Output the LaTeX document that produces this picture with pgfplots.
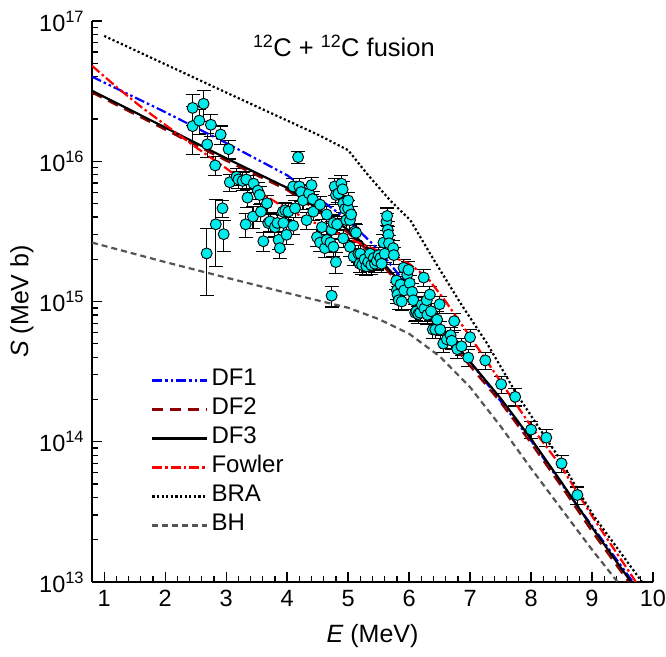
\documentclass[border=0pt]{standalone}
\usepackage{pgfplots}
\pgfplotsset{compat=1.18}
\usepackage{pgfplotstable}
\usepackage{fontspec}
\setmainfont{Liberation Sans}
\definecolor{dfblue}{RGB}{0,0,255}
\definecolor{dfdark}{RGB}{140,0,0}
\definecolor{fowred}{RGB}{255,0,0}
\definecolor{bhgray}{RGB}{85,85,85}
\definecolor{ptcyan}{RGB}{0,235,235}

\pgfplotstableread{
E S r
2.45 2.40e16 0.25
2.45 1.78e16 0.37
2.56 1.95e16 0.2
2.63 2.57e16 0.25
2.68 2.20e15 0.5
2.69 1.32e16 0.2
2.75 1.82e16 0.18
2.82 9.33e15 0.15
2.83 3.55e15 0.5
2.91 1.55e16 0.15
2.94 4.62e15 0.14
2.96 3.02e15 0.25
3.04 1.22e16 0.15
3.06 7.08e15 0.14
3.17 7.76e15 0.14
3.20 7.41e15 0.14
3.27 7.24e15 0.14
3.33 7.41e15 0.14
3.35 5.50e15 0.15
3.32 3.55e15 0.2
3.44 4.03e15 0.18
3.45 6.92e15 0.14
3.52 6.17e15 0.14
3.55 5.75e15 0.15
3.57 4.37e15 0.15
3.61 2.69e15 0.15
3.67 5.01e15 0.14
3.69 3.63e15 0.15
3.72 3.72e15 0.15
3.80 3.39e15 0.15
3.84 3.63e15 0.15
3.86 2.75e15 0.15
3.88 2.40e15 0.15
3.93 4.37e15 0.14
3.94 3.63e15 0.14
3.97 4.47e15 0.14
3.99 2.99e15 0.15
4.02 4.37e15 0.14
4.10 3.47e15 0.14
4.10 6.61e15 0.14
4.13 4.62e15 0.14
4.18 1.07e16 0.1
4.20 6.61e15 0.14
4.23 6.03e15 0.14
4.26 5.25e15 0.14
4.32 3.80e15 0.14
4.36 5.89e15 0.14
4.40 6.76e15 0.14
4.42 5.37e15 0.14
4.43 4.37e15 0.14
4.49 2.88e15 0.14
4.54 4.90e15 0.14
4.54 2.63e15 0.14
4.57 3.39e15 0.14
4.62 2.40e15 0.14
4.65 4.17e15 0.14
4.65 2.75e15 0.14
4.71 2.63e15 0.14
4.73 3.24e15 0.14
4.73 1.10e15 0.17
4.76 3.63e15 0.14
4.76 2.45e15 0.14
4.78 6.61e15 0.14
4.80 5.75e15 0.14
4.80 1.91e15 0.17
4.82 3.55e15 0.14
4.84 5.89e15 0.14
4.89 6.92e15 0.14
4.91 6.31e15 0.14
4.92 5.01e15 0.14
4.92 2.82e15 0.14
4.95 4.57e15 0.14
4.97 3.80e15 0.14
5.00 4.62e15 0.14
5.00 5.25e15 0.14
5.03 3.80e15 0.14
5.03 2.45e15 0.14
5.05 4.17e15 0.14
5.09 2.09e15 0.14
5.11 3.16e15 0.14
5.13 3.09e15 0.14
5.17 2.19e15 0.14
5.19 1.86e15 0.14
5.20 2.19e15 0.14
5.23 1.82e15 0.14
5.27 2.00e15 0.14
5.30 1.78e15 0.14
5.33 1.91e15 0.14
5.36 2.19e15 0.14
5.38 1.82e15 0.14
5.42 2.04e15 0.14
5.44 1.86e15 0.14
5.47 1.95e15 0.14
5.50 2.14e15 0.14
5.53 2.04e15 0.14
5.55 1.86e15 0.14
5.58 2.63e15 0.14
5.60 2.19e15 0.14
5.63 3.72e15 0.14
5.64 4.07e15 0.14
5.65 3.24e15 0.14
5.66 2.99e15 0.14
5.67 2.60e15 0.14
5.74 2.40e15 0.14
5.75 2.14e15 0.14
5.79 1.41e15 0.14
5.80 1.20e15 0.14
5.81 1.12e15 0.14
5.83 1.02e15 0.14
5.86 1.32e15 0.14
5.88 1.00e15 0.14
5.91 1.74e15 0.14
5.92 1.20e15 0.14
5.97 1.55e15 0.14
5.99 1.68e15 0.14
6.01 1.35e15 0.14
6.05 1.17e15 0.14
6.07 1.02e15 0.14
6.10 8.32e14 0.14
6.12 8.51e14 0.14
6.15 8.13e14 0.14
6.18 8.32e14 0.14
6.21 9.44e14 0.14
6.24 1.48e15 0.14
6.25 8.91e14 0.14
6.29 1.02e15 0.14
6.30 8.04e14 0.14
6.34 1.12e15 0.14
6.36 8.51e14 0.14
6.39 6.31e14 0.14
6.43 6.31e14 0.14
6.46 7.41e14 0.14
6.50 9.55e14 0.14
6.51 6.31e14 0.14
6.56 5.01e14 0.14
6.62 5.37e14 0.14
6.68 5.75e14 0.14
6.70 5.25e14 0.14
6.74 7.24e14 0.14
6.79 4.57e14 0.14
6.86 4.79e14 0.14
6.97 3.98e14 0.14
7.00 5.56e14 0.14
7.25 3.80e14 0.14
7.51 2.57e14 0.14
7.74 2.09e14 0.14
8.00 1.22e14 0.14
8.25 1.07e14 0.14
8.50 7.00e13 0.14
8.76 4.17e13 0.14
}\expdata

\begin{document}
\fontsize{23pt}{28pt}\selectfont
\begin{tikzpicture}
\path[use as bounding box] (-92pt,-74pt) rectangle (574pt,582pt);
\begin{axis}[
  at={(0pt,0pt)}, anchor=south west,
  scale only axis, width=561pt, height=561pt,
  ymode=log, xmin=0.8, xmax=10, ymin=1e13, ymax=1e17,
  axis x line*=bottom, axis y line*=left,
  axis line style={line width=1.6pt},
  tick align=inside,
  every tick/.style={black, line width=1.3pt},
  major tick length=10pt, minor tick length=6pt,
  xtick={1,2,...,10}, minor x tick num=4,
  ytick={1e13,1e14,1e15,1e16,1e17},
  yticklabels={10\textsuperscript{13},10\textsuperscript{14},10\textsuperscript{15},10\textsuperscript{16},10\textsuperscript{17}},
  /pgf/number format/assume math mode=true,
  tick label style={font=\fontsize{23.5pt}{28pt}\selectfont},
  xlabel={\textit{E} (MeV)}, ylabel={\textit{S} (MeV b)},
  label style={font=\fontsize{25pt}{30pt}\selectfont},
  xlabel style={yshift=-2pt},
  ylabel style={at={(rel axis cs:-0.125,0.5)}, anchor=center, rotate=0},
  legend style={draw=none, fill=none, at={(0.100,0.389)}, anchor=north west,
    font=\fontsize{24pt}{29pt}\selectfont, row sep=0pt,
    nodes={text height=17pt, text depth=6pt, inner sep=3pt},
    legend cell align=left},
  legend image code/.code={\draw[#1] (0pt,0pt) -- (55pt,0pt);},
]
\addplot[forget plot, only marks, mark=*, mark size=5.5pt,
  mark options={fill=ptcyan, draw=black, line width=0.9pt},
  error bars/.cd, y dir=both, y explicit relative,
  error bar style={line width=1.1pt, black},
  error mark options={rotate=90, mark size=7pt, black, line width=1.1pt}]
  table[x=E, y=S, y error=r] {\expdata};

\addplot[dfblue, line width=2.2pt, dash pattern=on 10pt off 3pt on 2.5pt off 3pt on 2.5pt off 3pt] table {
0.8 4.01e16
2.0 2.24e16
3.0 1.35e16
4.0 7.94e15
4.5 5.50e15
5.0 3.80e15
5.5 2.34e15
6.0 1.26e15
6.5 6.92e14
7.0 3.72e14
7.5 1.95e14
8.0 1.02e14
8.5 5.01e13
9.0 2.51e13
9.67 1.0e13
};
\addlegendentry{DF1}
\addplot[dfdark, line width=2.2pt, dash pattern=on 11pt off 7pt] table {
0.8 3.09e16
2.0 1.68e16
3.0 1.01e16
4.0 6.24e15
4.6 4.12e15
5.0 3.09e15
5.5 1.95e15
6.0 1.11e15
6.5 6.31e14
7.0 3.47e14
7.5 1.91e14
8.0 9.77e13
8.5 4.79e13
9.0 2.29e13
9.6 1.0e13
};
\addlegendentry{DF2}
\addplot[black, line width=2.2pt] table {
0.8 3.18e16
2.0 1.74e16
3.0 1.05e16
4.0 6.46e15
4.6 4.27e15
5.0 3.24e15
5.5 2.04e15
6.0 1.17e15
6.5 6.76e14
7.0 3.72e14
7.5 2.04e14
8.0 1.05e14
8.5 5.13e13
9.0 2.45e13
9.64 1.0e13
};
\addlegendentry{DF3}
\addplot[fowred, line width=2.2pt, dash pattern=on 10pt off 3pt on 2.5pt off 3pt] table {
0.8 4.79e16
1.2 3.39e16
1.6 2.45e16
2.0 1.82e16
2.5 1.26e16
3.0 8.91e15
3.5 6.17e15
4.0 4.57e15
4.5 3.55e15
5.0 2.82e15
5.5 2.29e15
6.0 1.86e15
6.3 1.48e15
6.6 1.00e15
7.0 5.62e14
7.5 2.69e14
8.0 1.29e14
8.5 6.61e13
9.0 2.95e13
9.72 1.0e13
};
\addlegendentry{Fowler}
\addplot[black, line width=2.2pt, dash pattern=on 2.2pt off 2.4pt] table {
1.0 7.82e16
3.0 3.09e16
4.5 1.55e16
5.0 1.20e16
5.33 7.94e15
5.69 5.25e15
6.02 3.80e15
6.4 2.00e15
6.84 9.77e14
7.28 5.01e14
7.75 2.24e14
8.25 1.05e14
8.5 7.24e13
8.76 4.57e13
9.03 2.95e13
9.82 1.0e13
};
\addlegendentry{BRA}
\addplot[bhgray, line width=2.2pt, dash pattern=on 6pt off 4pt] table {
0.8 2.63e15
2.0 1.91e15
3.0 1.48e15
4.0 1.15e15
5.0 9.02e14
5.5 7.50e14
6.0 5.89e14
6.5 4.07e14
7.0 2.45e14
7.5 1.29e14
8.0 6.46e13
8.5 3.31e13
9.0 1.70e13
9.42 1.0e13
};
\addlegendentry{BH}
\node[font=\fontsize{25.5pt}{30pt}\selectfont] at (rel axis cs:0.449,0.955) {\textsuperscript{12}C + \textsuperscript{12}C fusion};
\end{axis}
\end{tikzpicture}
\end{document}
